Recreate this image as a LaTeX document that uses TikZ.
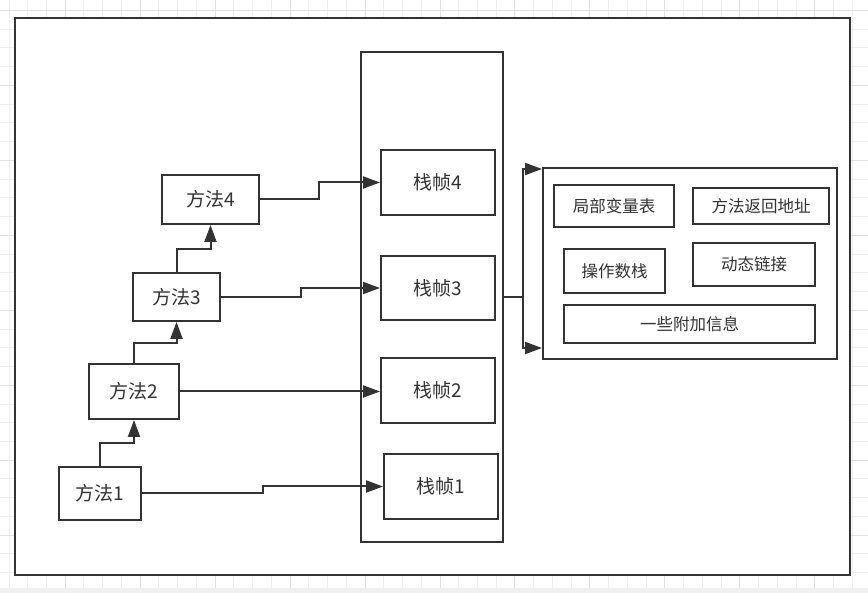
\documentclass[tikz,border=0pt]{standalone}
\usepackage{fontspec}
\newfontfamily\cjk{Noto Sans CJK SC}
\usetikzlibrary{arrows.meta,calc}
\definecolor{lc}{HTML}{333333}
\definecolor{gmin}{HTML}{EFEFEF}
\definecolor{gmaj}{HTML}{E2E2E2}
\definecolor{strip}{HTML}{F0F0F0}
\begin{document}
\begin{tikzpicture}[x=1pt,y=-1pt,
  frame/.style={draw=lc, line width=2pt, fill=white, inner sep=0pt},
  box/.style={draw=lc, line width=2pt, fill=white, inner sep=0pt, text=lc, font=\cjk\fontsize{19}{22}\selectfont},
  sbox/.style={box, font=\cjk\fontsize{16.5}{19}\selectfont},
  arr/.style={draw=lc, line width=2pt, -{Triangle[length=17pt,width=12pt]}},
  gminor/.style={draw=gmin, line width=1pt},
  gmajor/.style={draw=gmaj, line width=1pt}]
\useasboundingbox (0,0) rectangle (868,593);
% background grid
\fill[white] (0,0) rectangle (868,588);
\fill[strip] (0,588) rectangle (868,593);
\foreach \k in {0,...,46} \draw[gminor] ({9+18.74*\k},0) -- ({9+18.74*\k},588);
\foreach \k in {0,...,30} \draw[gminor] (0,{10.5+18.74*\k}) -- (868,{10.5+18.74*\k});
\foreach \k in {3,7,...,43} \draw[gmajor] ({9+18.74*\k},0) -- ({9+18.74*\k},588);
\foreach \k in {0,4,...,28} \draw[gmajor] (0,{10.5+18.74*\k}) -- (868,{10.5+18.74*\k});
% outer frame
\node[frame, minimum width=834.5pt, minimum height=556.5pt] (outer) at (432.25,296.25) {};
% stack
\node[frame, minimum width=142pt, minimum height=490pt] (stack) at (432,297) {};
\node[box, minimum width=114pt, minimum height=65pt] (f4) at (438,182.5) {栈帧4};
\node[box, minimum width=114pt, minimum height=64pt] (f3) at (438,288) {栈帧3};
\node[box, minimum width=114pt, minimum height=65pt] (f2) at (438,390.5) {栈帧2};
\node[box, minimum width=114pt, minimum height=65pt] (f1) at (441,486.5) {栈帧1};
% methods
\node[box, minimum width=97pt, minimum height=49pt] (m4) at (210.5,199.5) {方法4};
\node[box, minimum width=87pt, minimum height=48pt] (m3) at (176.5,297) {方法3};
\node[box, minimum width=90pt, minimum height=55pt] (m2) at (134,391.5) {方法2};
\node[box, minimum width=82pt, minimum height=53pt] (m1) at (100,493.5) {方法1};
% detail
\node[frame, minimum width=294pt, minimum height=191pt] (detail) at (690,263.5) {};
\node[sbox, minimum width=120pt, minimum height=42pt] (lv) at (614,206) {局部变量表};
\node[sbox, minimum width=136pt, minimum height=36pt] (ra) at (761,206) {方法返回地址};
\node[sbox, minimum width=101pt, minimum height=44pt] (os) at (614.5,271) {操作数栈};
\node[sbox, minimum width=122pt, minimum height=43pt] (dl) at (754,264.5) {动态链接};
\node[sbox, minimum width=251pt, minimum height=38pt] (ai) at (689.5,324) {一些附加信息};
% method chain
\coordinate (j1) at (117,443);
\coordinate (j2) at (155,343);
\coordinate (j3) at (193,249);
\draw[arr] (m1.north) |- (j1) -| (m2.south);
\draw[arr] (m2.north) |- (j2) -| (m3.south);
\draw[arr] (m3.north) |- (j3) -| (m4.south);
% method -> frame
\coordinate (k4) at (319,190);
\coordinate (k3) at (301,292);
\coordinate (k1) at (263,490);
\draw[arr] (m4.east) -| (k4) |- (f4.west);
\draw[arr] (m3.east) -| (k3) |- (f3.west);
\draw[arr] (m2.east) -- (m2.east -| f2.west);
\draw[arr] (m1.east) -| (k1) |- (f1.west);
% stack -> detail
\coordinate (sp) at (523,297);
\coordinate (dt) at ([yshift=-2pt]detail.north west);
\coordinate (db) at ([yshift=12pt]detail.south west);
\draw[arr] (stack.east) -- (sp) |- (dt);
\draw[arr] (stack.east) -- (sp) |- (db);
\end{tikzpicture}
\end{document}
